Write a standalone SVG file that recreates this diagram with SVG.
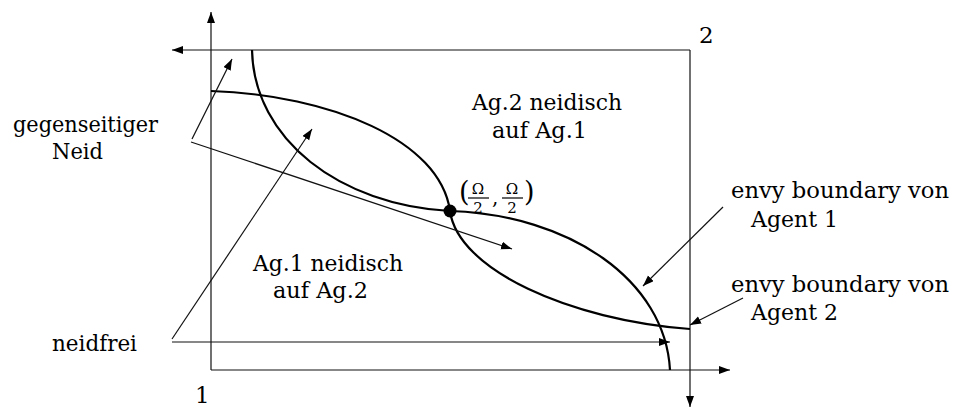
<svg xmlns="http://www.w3.org/2000/svg" width="955" height="408" viewBox="0 0 955 408">
<style>
.ax{fill:none;stroke:#111;stroke-width:1.2}
.cv{fill:none;stroke:#000;stroke-width:2.2}
.ar{fill:none;stroke:#111;stroke-width:1.2;marker-end:url(#ah)}
.t{font-size:23px;fill:#000}
.f{font-size:15px;fill:#000;text-anchor:middle}
</style>
<defs>
<marker id="ah" markerUnits="userSpaceOnUse" markerWidth="12" markerHeight="10" refX="11" refY="4" orient="auto">
<path d="M0,0 L11,4 L0,8 z" fill="#000"/>
</marker>
</defs>
<g id="axes">
<path class="ar" d="M211,370 L211,12"/>
<path class="ar" d="M211,370 L730,370"/>
<path class="ar" d="M690,50 L172,50"/>
<path class="ar" d="M690,50 L690,407"/>
</g>
<g id="curves">
<path id="boundary1" class="cv" d="M252,50 C254,140 340,205 450,211 C570,215 665,280 670,370"/>
<path id="boundary2" class="cv" d="M211,91 C330,95 440,140 450,211 C458,270 570,320 690,329"/>
<circle id="point" cx="450" cy="211" r="6.5" fill="#000"/>
</g>
<g id="connectors">
<path class="ar" d="M192,139 L232,59"/>
<path class="ar" d="M191,142 L512,249"/>
<path class="ar" d="M172,339 L312,129"/>
<path class="ar" d="M172,342 L670,342"/>
<path class="ar" d="M723,207 L643,286"/>
<path class="ar" d="M743,298 L690,325"/>
</g>
<g id="labels" font-family="'DejaVu Serif','Liberation Serif',serif">
<text class="t" x="13" y="132" textLength="145" lengthAdjust="spacingAndGlyphs">gegenseitiger</text>
<text class="t" x="52" y="159" textLength="51" lengthAdjust="spacingAndGlyphs">Neid</text>
<text class="t" x="52" y="351" textLength="85" lengthAdjust="spacingAndGlyphs">neidfrei</text>
<text class="t" x="195" y="403">1</text>
<text class="t" x="699" y="43">2</text>
<text class="t" x="472" y="110" textLength="150" lengthAdjust="spacingAndGlyphs">Ag.2 neidisch</text>
<text class="t" x="492" y="138" textLength="95" lengthAdjust="spacingAndGlyphs">auf Ag.1</text>
<text class="t" x="253" y="271" textLength="150" lengthAdjust="spacingAndGlyphs">Ag.1 neidisch</text>
<text class="t" x="273" y="298" textLength="95" lengthAdjust="spacingAndGlyphs">auf Ag.2</text>
<text class="t" x="731" y="198" textLength="218" lengthAdjust="spacingAndGlyphs">envy boundary von</text>
<text class="t" x="751" y="227" textLength="87" lengthAdjust="spacingAndGlyphs">Agent 1</text>
<text class="t" x="731" y="292" textLength="218" lengthAdjust="spacingAndGlyphs">envy boundary von</text>
<text class="t" x="751" y="320" textLength="87" lengthAdjust="spacingAndGlyphs">Agent 2</text>
<g id="coord">
<text class="t" x="459" y="201" style="font-size:27px">(</text>
<text class="f" x="478" y="194">Ω</text>
<line x1="468" y1="198" x2="489" y2="198" stroke="#000" stroke-width="1.2"/>
<text class="f" x="478" y="213">2</text>
<text class="t" x="492" y="204" style="font-size:20px">,</text>
<text class="f" x="512" y="194">Ω</text>
<line x1="502" y1="198" x2="523" y2="198" stroke="#000" stroke-width="1.2"/>
<text class="f" x="512" y="213">2</text>
<text class="t" x="524" y="201" style="font-size:27px">)</text>
</g>
</g>
</svg>
